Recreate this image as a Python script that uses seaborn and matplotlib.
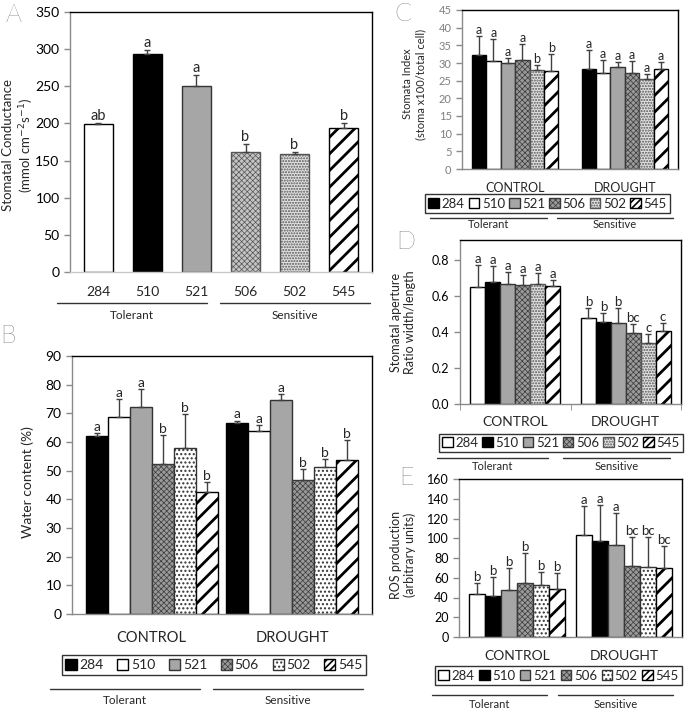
import numpy as np
import pandas as pd
import matplotlib
matplotlib.use("Agg")
import matplotlib.pyplot as plt
import matplotlib.patches as mpatches
import matplotlib.ticker as ticker
from matplotlib.lines import Line2D
import seaborn as sns

cultivars = ["284", "510", "521", "506", "502", "545"]
treatments = ["CONTROL", "DROUGHT"]

# A - stomatal conductance
cond_mean = [199, 293, 250, 162, 159, 194]
cond_err = [1.5, 6, 15, 10, 2.5, 6]
cond_sig = ["ab", "a", "a", "b", "b", "b"]

# B - water content (%)
wc_control = [62.0, 68.7, 72.2, 52.2, 58.0, 42.7]
wc_control_err = [1.0, 6.4, 6.2, 10.2, 11.9, 3.3]
wc_drought = [66.5, 64.0, 74.8, 46.8, 51.4, 53.6]
wc_drought_err = [1.0, 2.1, 1.8, 3.9, 2.7, 7.2]
wc_sig_control = ["a", "a", "a", "b", "b", "b"]
wc_sig_drought = ["a", "a", "a", "b", "b", "b"]

# C - stomata index
si_control = [32.2, 30.6, 30.0, 30.9, 28.0, 27.7]
si_control_err = [5.5, 6.2, 1.5, 4.5, 1.3, 4.8]
si_drought = [28.4, 27.2, 28.9, 27.3, 25.6, 28.2]
si_drought_err = [5.3, 3.7, 1.5, 3.4, 1.3, 2.0]
si_sig_control = ["a", "a", "a", "a", "b", "b"]
si_sig_drought = ["a", "a", "a", "a", "a", "a"]

# D - stomatal aperture
ap_control = [0.648, 0.678, 0.668, 0.661, 0.668, 0.652]
ap_control_err = [0.124, 0.085, 0.062, 0.056, 0.058, 0.037]
ap_drought = [0.478, 0.454, 0.448, 0.393, 0.341, 0.404]
ap_drought_err = [0.052, 0.053, 0.082, 0.051, 0.048, 0.048]
ap_sig_control = ["a", "a", "a", "a", "a", "a"]
ap_sig_drought = ["b", "b", "b", "bc", "c", "c"]

# E - ROS production
ros_control = [43.9, 41.2, 47.9, 54.7, 53.0, 48.9]
ros_control_err = [10.8, 19.6, 22.0, 30.3, 12.5, 15.9]
ros_drought = [103.6, 96.9, 92.8, 72.2, 70.9, 69.9]
ros_drought_err = [29.4, 37.1, 33.2, 29.1, 30.1, 21.9]
ros_sig_control = ["b", "b", "b", "b", "b", "b"]
ros_sig_drought = ["a", "a", "a", "bc", "bc", "bc"]

sns.set_style("ticks")
plt.rcParams["font.family"] = ["Lato", "DejaVu Sans"]
plt.rcParams["hatch.linewidth"] = 1.0

W, H = 685, 710
fig = plt.figure(figsize=(W / 100, H / 100), dpi=100)


def fx(px):
    return px / W


def fy(py):
    return 1 - py / H


def add_axes(x0, y0, x1, y1):
    return fig.add_axes([fx(x0), fy(y1), fx(x1) - fx(x0), fy(y0) - fy(y1)])


# fill styles: facecolor, edgecolor, hatch, hatch linewidth
STYLES = {
    "white": ("white", "black", None, 1.0),
    "black": ("black", "black", None, 1.0),
    "gray": ("#a6a6a6", "#333333", None, 1.0),
    "check": ("#9a9a9a", "#3a3a3a", "xxxxxx", 0.5),
    "checkA": ("#c4c4c4", "#555555", "xxxxxx", 0.5),
    "dots": ("white", "#333333", "....", 1.0),
    "ldots": ("#e2e2e2", "#555555", "......", 1.0),
    "stripes": ("white", "black", "//", 2.0),
}


def style_bar(p, key, hatch=None):
    fc, ec, h, hlw = STYLES[key]
    p.set_facecolor(fc)
    p.set_edgecolor(ec)
    p.set_hatch(hatch if hatch else h)
    p.set_linewidth(1.0)
    if hasattr(p, "set_hatch_linewidth"):
        p.set_hatch_linewidth(hlw if key != "stripes" or not hatch else 1.2)


def frame(ax, fs, labelcolor="black"):
    for s in ["top", "right"]:
        ax.spines[s].set_visible(True)
        ax.spines[s].set_color("black")
        ax.spines[s].set_linewidth(1)
    for s in ["left", "bottom"]:
        ax.spines[s].set_color("#8a8a8a")
        ax.spines[s].set_linewidth(1)
    ax.tick_params(axis="y", direction="out", length=4, width=1, color="#8a8a8a",
                   labelsize=fs, labelcolor=labelcolor)
    ax.set_xlabel("")
    ax.set_ylabel("")


def sig_labels(ax, xs, hs, errs, sigs, fs):
    ax.errorbar(xs, hs, yerr=[np.zeros(len(errs)), errs], fmt="none",
                ecolor="#404040", elinewidth=1, capsize=2.5, capthick=1)
    for x, h, e, s in zip(xs, hs, errs, sigs):
        ax.annotate(s, (x, h + e), xytext=(0, 0), textcoords="offset points",
                    ha="center", va="bottom", fontsize=fs)


def group_lines(y_line, y_text, tol, sen, fs):
    for (x0, x1), lab in zip([tol, sen], ["Tolerant", "Sensitive"]):
        fig.add_artist(Line2D([fx(x0), fx(x1)], [fy(y_line)] * 2, color="#333333",
                              lw=1, transform=fig.transFigure))
        fig.text(fx((x0 + x1) / 2), fy(y_text), lab, ha="center", va="center", fontsize=fs)


def legend(ax, styles, box, fs):
    x0, y0, x1, y1 = box
    handles = []
    for c, key in zip(cultivars, styles):
        p = mpatches.Patch(label=c)
        style_bar(p, key, hatch="/////" if key == "stripes" else None)
        handles.append(p)
    leg = ax.legend(handles=handles, loc="center", ncol=6, mode="expand",
                    bbox_to_anchor=(fx(x0), fy(y1), fx(x1) - fx(x0), fy(y0) - fy(y1)),
                    bbox_transform=fig.transFigure, fontsize=fs, handlelength=0.8,
                    handleheight=0.8, handletextpad=0.2, borderpad=0.25,
                    columnspacing=0.4, fancybox=False, borderaxespad=0)
    leg.get_frame().set_edgecolor("black")
    leg.get_frame().set_linewidth(1)
    for h, key in zip(leg.legend_handles, styles):
        style_bar(h, key, hatch="/////" if key == "stripes" else None)


def grouped_panel(ax, control, drought, err_c, err_d, sig_c, sig_d, styles, width,
                  fs_sig):
    df = pd.DataFrame({
        "treatment": np.repeat(treatments, len(cultivars)),
        "cultivar": cultivars * 2,
        "value": list(control) + list(drought),
    })
    sns.barplot(data=df, x="treatment", y="value", hue="cultivar", order=treatments,
                hue_order=cultivars, palette=[STYLES[s][0] for s in styles],
                width=width, gap=0, saturation=1, errorbar=None, legend=False,
                edgecolor="black", linewidth=1, ax=ax)
    for i, (cont, key) in enumerate(zip(ax.containers, styles)):
        for p in cont.patches:
            style_bar(p, key)
        xs = [p.get_x() + p.get_width() / 2 for p in cont.patches]
        hs = [p.get_height() for p in cont.patches]
        sig_labels(ax, xs, hs, [err_c[i], err_d[i]], [sig_c[i], sig_d[i]], fs_sig)


# ---------------- A ----------------
axA = add_axes(70, 12, 372, 272)
stylesA = ["white", "black", "gray", "checkA", "ldots", "stripes"]
sns.barplot(x=cultivars, y=cond_mean, hue=cultivars, order=cultivars, hue_order=cultivars,
            palette=[STYLES[s][0] for s in stylesA], width=0.6, saturation=1,
            legend=False, edgecolor="black", linewidth=1, ax=axA)
for cont, key in zip(axA.containers, stylesA):
    for p in cont.patches:
        style_bar(p, key)
barsA = [cont.patches[0] for cont in axA.containers]
sig_labels(axA, [p.get_x() + p.get_width() / 2 for p in barsA],
           [p.get_height() for p in barsA], cond_err, cond_sig, 10.5)
axA.set_ylim(0, 350)
axA.yaxis.set_major_locator(ticker.MultipleLocator(50))
frame(axA, 10)
axA.spines["bottom"].set_color("#c8c8c8")
axA.tick_params(axis="x", length=0, pad=10, labelsize=10)
fig.text(fx(19), fy(145), "Stomatal Conductance\n(mmol cm$^{-2}$s$^{-1}$)", rotation=90,
         ha="center", va="center", fontsize=9.5, multialignment="center")
group_lines(303, 315, (57, 207), (220, 370), 8.5)
fig.text(fx(13), fy(15), "A", ha="center", va="center", fontsize=18, fontweight="light")

# ---------------- B ----------------
axB = add_axes(72, 356, 372, 614)
stylesB = ["black", "white", "gray", "check", "dots", "stripes"]
grouped_panel(axB, wc_control, wc_drought, wc_control_err, wc_drought_err,
              wc_sig_control, wc_sig_drought, stylesB, 0.94, 10)
axB.set_ylim(0, 90)
axB.yaxis.set_major_locator(ticker.MultipleLocator(10))
frame(axB, 10)
axB.tick_params(axis="x", length=0, pad=12, labelsize=10.5)
fig.text(fx(28), fy(482), "Water content (%)", rotation=90, ha="center", va="center",
         fontsize=10)
legend(axB, stylesB, (62, 652, 366, 678), 10)
group_lines(689, 700, (50, 200), (213, 363), 8.5)
fig.text(fx(8), fy(336), "B", ha="center", va="center", fontsize=18, fontweight="light")

# ---------------- C ----------------
axC = add_axes(462, 10, 678, 169)
stylesC = ["black", "white", "gray", "check", "ldots", "stripes"]
grouped_panel(axC, si_control, si_drought, si_control_err, si_drought_err,
              si_sig_control, si_sig_drought, stylesC, 0.79, 9)
axC.set_ylim(0, 45)
axC.yaxis.set_major_locator(ticker.MultipleLocator(5))
frame(axC, 8, labelcolor="#7f7f7f")
axC.tick_params(axis="x", length=0, pad=9, labelsize=9)
fig.text(fx(414), fy(84), "Stomata Index\n(stoma x100/total cell)", rotation=90,
         ha="center", va="center", fontsize=8, multialignment="center")
legend(axC, stylesC, (425, 192, 670, 215), 9.5)
group_lines(218, 225, (430, 547), (557, 673), 8)
fig.text(fx(403), fy(14), "C", ha="center", va="center", fontsize=18, fontweight="light")

# ---------------- D ----------------
axD = add_axes(460, 240, 681, 404)
stylesD = ["white", "black", "gray", "check", "ldots", "stripes"]
grouped_panel(axD, ap_control, ap_drought, ap_control_err, ap_drought_err,
              ap_sig_control, ap_sig_drought, stylesD, 0.81, 9.5)
axD.set_ylim(0, 0.91)
axD.set_yticks([0, 0.2, 0.4, 0.6, 0.8])
axD.yaxis.set_major_formatter(ticker.FormatStrFormatter("%.1f"))
frame(axD, 9)
axD.set_xticks([-0.5, 0.5, 1.5], minor=True)
axD.tick_params(axis="x", which="minor", length=4, color="#8a8a8a")
axD.tick_params(axis="x", which="major", length=0, pad=9, labelsize=10)
fig.text(fx(403), fy(322), "Stomatal aperture\nRatio width/length", rotation=90,
         ha="center", va="center", fontsize=9, multialignment="center")
legend(axD, stylesD, (439, 433, 683, 453), 9.5)
group_lines(458, 466, (437, 548), (563, 670), 8)
fig.text(fx(406), fy(242), "D", ha="center", va="center", fontsize=18, fontweight="light")

# ---------------- E ----------------
axE = add_axes(459, 479, 682, 637)
stylesE = ["white", "black", "gray", "check", "dots", "stripes"]
grouped_panel(axE, ros_control, ros_drought, ros_control_err, ros_drought_err,
              ros_sig_control, ros_sig_drought, stylesE, 0.9, 9.5)
axE.set_ylim(0, 160)
axE.yaxis.set_major_locator(ticker.MultipleLocator(20))
frame(axE, 9)
axE.tick_params(axis="x", length=0, pad=9, labelsize=10)
fig.text(fx(403), fy(555), "ROS production\n(arbitrary units)", rotation=90,
         ha="center", va="center", fontsize=9, multialignment="center")
legend(axE, stylesE, (435, 663, 682, 688), 9.5)
group_lines(695, 705, (432, 547), (558, 673), 8)
fig.text(fx(406), fy(478), "E", ha="center", va="center", fontsize=18, fontweight="light")

fig.savefig("out.png", dpi=100)
